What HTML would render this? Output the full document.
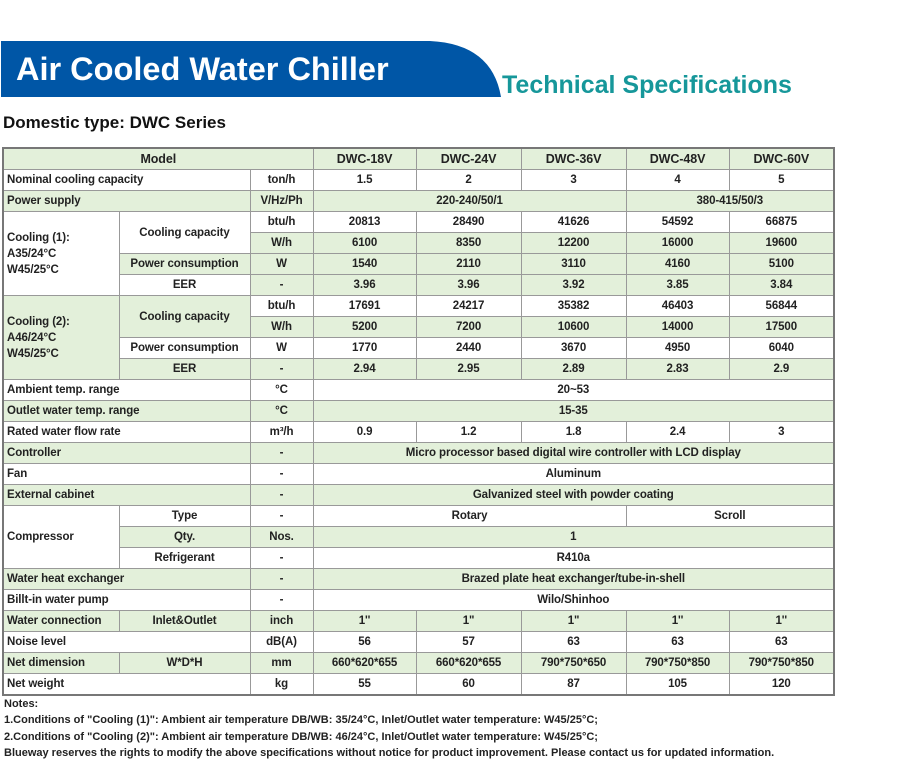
<!DOCTYPE html>
<html><head><meta charset="utf-8"><style>
body{margin:0;width:900px;height:776px;background:#fff;position:relative;overflow:hidden;font-family:"Liberation Sans",sans-serif;}
.t1{position:absolute;left:16px;top:51px;color:#fff;font-weight:bold;font-size:32.5px;white-space:nowrap;}
.t2{position:absolute;left:502px;top:71px;color:#16979a;font-weight:bold;font-size:25px;white-space:nowrap;}
.t3{position:absolute;left:3px;top:113px;color:#111;font-weight:bold;font-size:17px;white-space:nowrap;}
table{position:absolute;left:2px;top:147px;border-collapse:collapse;table-layout:fixed;width:831px;border:2px solid #777;}
td{border:1px solid #999;height:20px;padding:0 3px;font-size:11.5px;font-weight:bold;color:#222;text-align:center;white-space:nowrap;overflow:hidden;letter-spacing:-0.1px;line-height:20px}
td.l{text-align:left;padding-left:3px}
.g{background:#e3f0da}
tr.g td{background:#e3f0da}
td.w{background:#fff !important}
.th td{font-size:12.5px}
.notes{position:absolute;left:4px;font-size:11px;font-weight:bold;color:#222;white-space:nowrap;}
</style></head><body>
<svg width="900" height="100" style="position:absolute;left:0;top:0"><path d="M1,41 H430 Q492,44 501,97 H1 Z" fill="#0056a6"/></svg>
<div class="t1">Air Cooled Water Chiller</div>
<div class="t2">Technical Specifications</div>
<div class="t3">Domestic type: DWC Series</div>
<table>
<colgroup><col style="width:116px"><col style="width:131px"><col style="width:63px"><col style="width:103px"><col style="width:105px"><col style="width:105px"><col style="width:103px"><col style="width:105px"></colgroup>
<tr class="g th"><td colspan="3">Model</td><td>DWC-18V</td><td>DWC-24V</td><td>DWC-36V</td><td>DWC-48V</td><td>DWC-60V</td></tr>
<tr><td class="l" colspan="2">Nominal cooling capacity</td><td>ton/h</td><td>1.5</td><td>2</td><td>3</td><td>4</td><td>5</td></tr>
<tr class="g"><td class="l" colspan="2">Power supply</td><td>V/Hz/Ph</td><td colspan="3">220-240/50/1</td><td colspan="2">380-415/50/3</td></tr>
<tr><td class="l" rowspan="4" style="line-height:16px">Cooling (1):<br>A35/24°C<br>W45/25°C</td><td rowspan="2">Cooling capacity</td><td>btu/h</td><td>20813</td><td>28490</td><td>41626</td><td>54592</td><td>66875</td></tr>
<tr class="g"><td>W/h</td><td>6100</td><td>8350</td><td>12200</td><td>16000</td><td>19600</td></tr>
<tr class="g"><td>Power consumption</td><td>W</td><td>1540</td><td>2110</td><td>3110</td><td>4160</td><td>5100</td></tr>
<tr class="g"><td class="w">EER</td><td>-</td><td>3.96</td><td>3.96</td><td>3.92</td><td>3.85</td><td>3.84</td></tr>
<tr><td class="l g" rowspan="4" style="line-height:16px">Cooling (2):<br>A46/24°C<br>W45/25°C</td><td class="g" rowspan="2">Cooling capacity</td><td>btu/h</td><td>17691</td><td>24217</td><td>35382</td><td>46403</td><td>56844</td></tr>
<tr class="g"><td>W/h</td><td>5200</td><td>7200</td><td>10600</td><td>14000</td><td>17500</td></tr>
<tr><td>Power consumption</td><td>W</td><td>1770</td><td>2440</td><td>3670</td><td>4950</td><td>6040</td></tr>
<tr class="g"><td>EER</td><td>-</td><td>2.94</td><td>2.95</td><td>2.89</td><td>2.83</td><td>2.9</td></tr>
<tr><td class="l" colspan="2">Ambient temp. range</td><td>°C</td><td colspan="5">20~53</td></tr>
<tr class="g"><td class="l" colspan="2">Outlet water temp. range</td><td>°C</td><td colspan="5">15-35</td></tr>
<tr><td class="l" colspan="2">Rated water flow rate</td><td>m³/h</td><td>0.9</td><td>1.2</td><td>1.8</td><td>2.4</td><td>3</td></tr>
<tr class="g"><td class="l" colspan="2">Controller</td><td>-</td><td colspan="5">Micro processor based digital wire controller with LCD display</td></tr>
<tr><td class="l" colspan="2">Fan</td><td>-</td><td colspan="5">Aluminum</td></tr>
<tr class="g"><td class="l" colspan="2">External cabinet</td><td>-</td><td colspan="5">Galvanized steel with powder coating</td></tr>
<tr><td class="l" rowspan="3">Compressor</td><td>Type</td><td>-</td><td colspan="3">Rotary</td><td colspan="2">Scroll</td></tr>
<tr class="g"><td>Qty.</td><td>Nos.</td><td colspan="5">1</td></tr>
<tr><td>Refrigerant</td><td>-</td><td colspan="5">R410a</td></tr>
<tr class="g"><td class="l" colspan="2">Water heat exchanger</td><td>-</td><td colspan="5">Brazed plate heat exchanger/tube-in-shell</td></tr>
<tr><td class="l" colspan="2">Billt-in water pump</td><td>-</td><td colspan="5">Wilo/Shinhoo</td></tr>
<tr class="g"><td class="l">Water connection</td><td>Inlet&amp;Outlet</td><td>inch</td><td>1''</td><td>1"</td><td>1"</td><td>1''</td><td>1''</td></tr>
<tr><td class="l" colspan="2">Noise level</td><td>dB(A)</td><td>56</td><td>57</td><td>63</td><td>63</td><td>63</td></tr>
<tr class="g"><td class="l">Net dimension</td><td>W*D*H</td><td>mm</td><td>660*620*655</td><td>660*620*655</td><td>790*750*650</td><td>790*750*850</td><td>790*750*850</td></tr>
<tr><td class="l" colspan="2">Net weight</td><td>kg</td><td>55</td><td>60</td><td>87</td><td>105</td><td>120</td></tr>
</table>
<div class="notes" style="top:698px">Notes:</div>
<div class="notes" style="top:714px">1.Conditions of "Cooling (1)": Ambient air temperature DB/WB: 35/24°C, Inlet/Outlet water temperature: W45/25°C;</div>
<div class="notes" style="top:731px">2.Conditions of "Cooling (2)": Ambient air temperature DB/WB: 46/24°C, Inlet/Outlet water temperature: W45/25°C;</div>
<div class="notes" style="top:747px">Blueway reserves the rights to modify the above specifications without notice for product improvement. Please contact us for updated information.</div>
</body></html>
